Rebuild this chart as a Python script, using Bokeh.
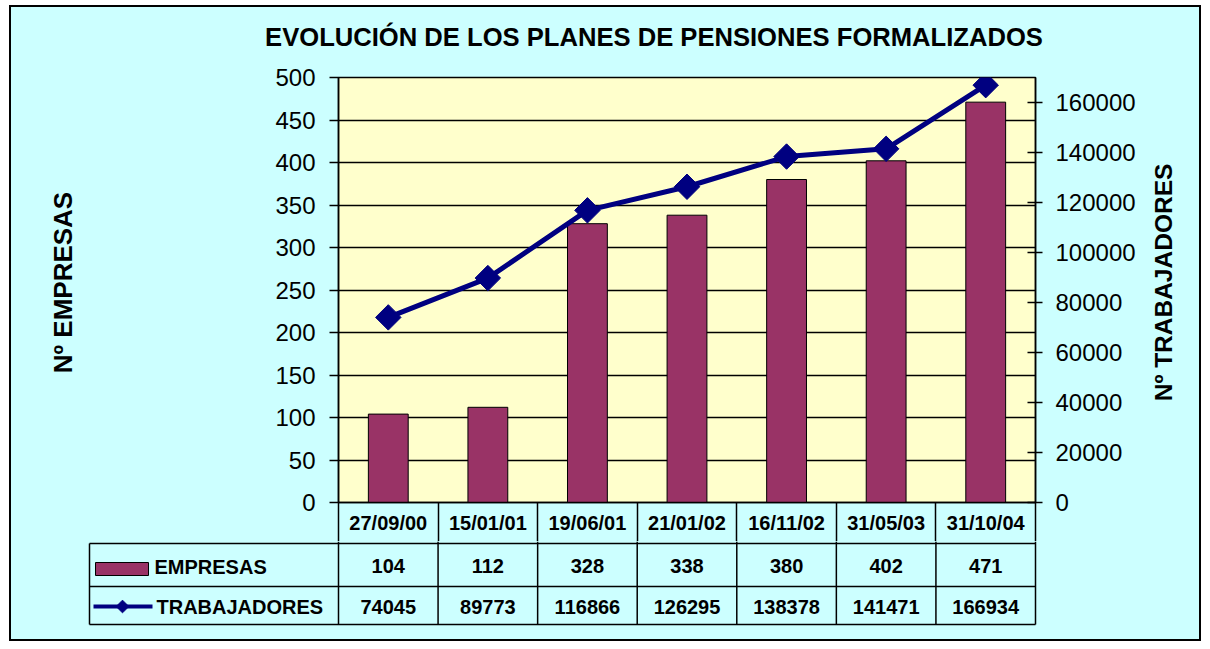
import math
from bokeh.plotting import figure
from bokeh.models import Range1d, LinearAxis, FixedTicker, BasicTickFormatter
from bokeh.layouts import column, row
from bokeh.core.properties import value
from bokeh.embed import file_html
from bokeh.resources import INLINE

# ---------------- data ----------------
fechas = ["27/09/00", "15/01/01", "19/06/01", "21/01/02", "16/11/02", "31/05/03", "31/10/04"]
empresas = [104, 112, 328, 338, 380, 402, 471]
trabajadores = [74045, 89773, 116866, 126295, 138378, 141471, 166934]
series = ["EMPRESAS", "TRABAJADORES"]
left_ticks = [0, 50, 100, 150, 200, 250, 300, 350, 400, 450, 500]
right_ticks = [0, 20000, 40000, 60000, 80000, 100000, 120000, 140000, 160000]
title_text = "EVOLUCIÓN DE LOS PLANES DE PENSIONES FORMALIZADOS"
left_label = "Nº EMPRESAS"
right_label = "Nº TRABAJADORES"

# ---------------- style ----------------
BG = "#CCFFFF"
PLOT_BG = "#FFFFCC"
BAR = "#993366"
LINE = "#000080"
FONT = "Liberation Sans"

n = len(fechas)
xc = [i + 0.5 for i in range(n)]


def panel(w, h, xr, yr):
    f = figure(width=w, height=h, x_range=Range1d(*xr), y_range=Range1d(*yr),
               output_backend="svg", toolbar_location=None, x_axis_type=None, y_axis_type=None,
               min_border=0, background_fill_color=BG, border_fill_color=BG,
               outline_line_color=None, styles={"background-color": BG})
    f.frame_align = False
    return f


# ---------------- title strip ----------------
hd = panel(1188, 53, (11, 1199), (60, 7))
hd.text(x=[653.5], y=[36], text=[title_text], text_align="center", text_baseline="middle",
        text_font=value(FONT), text_font_size="25.6px", text_font_style="bold",
        text_color="black")

# ---------------- left / right axis titles ----------------
lside = panel(89, 481, (11, 100), (541, 60))
lside.text(x=[62], y=[282], text=[left_label], angle=math.pi / 2, text_align="center",
           text_baseline="middle", text_font=value(FONT), text_font_size="26px",
           text_font_style="bold", text_color="black")

rside = panel(49, 481, (1150, 1199), (541, 60))
rside.text(x=[1163], y=[282], text=[right_label], angle=math.pi / 2, text_align="center",
           text_baseline="middle", text_font=value(FONT), text_font_size="24.5px",
           text_font_style="bold", text_color="black")

# ---------------- main chart ----------------
p = figure(width=1050, height=481, x_range=Range1d(0, n), y_range=Range1d(0, 500),
           output_backend="svg", toolbar_location=None,
           min_border_left=238, min_border_right=115, min_border_top=17, min_border_bottom=39,
           background_fill_color=PLOT_BG, border_fill_color=BG,
           outline_line_color="black", outline_line_width=1.5,
           styles={"background-color": BG})
p.frame_align = False

# left axis
ya = p.yaxis[0]
ya.ticker = FixedTicker(ticks=left_ticks)
ya.major_tick_out = 9
ya.major_tick_in = 0
ya.minor_tick_out = 0
ya.minor_tick_in = 0
ya.axis_line_color = "black"
ya.axis_line_width = 1.5
ya.major_tick_line_color = "black"
ya.major_tick_line_width = 1.5
ya.major_label_text_font = FONT
ya.major_label_text_font_size = "24px"
ya.major_label_text_color = "black"
ya.major_label_standoff = 14

# bottom axis: category row of the data table
xa = p.xaxis[0]
xa.ticker = FixedTicker(ticks=xc, minor_ticks=list(range(n + 1)))
xa.major_label_overrides = {x: f for x, f in zip(xc, fechas)}
xa.major_tick_out = 0
xa.major_tick_in = 0
xa.minor_tick_out = 39
xa.minor_tick_in = 0
xa.minor_tick_line_color = "black"
xa.minor_tick_line_width = 1.5
xa.axis_line_color = "black"
xa.axis_line_width = 1.5
xa.major_label_text_font = FONT
xa.major_label_text_font_size = "20px"
xa.major_label_text_font_style = "bold"
xa.major_label_text_color = "black"
xa.major_label_standoff = -30

p.xgrid.visible = False
p.ygrid.ticker = FixedTicker(ticks=left_ticks)
p.ygrid.grid_line_color = "black"
p.ygrid.grid_line_width = 1.5

# right axis
p.extra_y_ranges = {"trab": Range1d(0, 170000)}
ra = LinearAxis(y_range_name="trab", ticker=FixedTicker(ticks=right_ticks),
                formatter=BasicTickFormatter(use_scientific=False))
ra.major_tick_out = 7
ra.major_tick_in = 8
ra.minor_tick_out = 0
ra.minor_tick_in = 0
ra.axis_line_color = "black"
ra.axis_line_width = 1.5
ra.major_tick_line_color = "black"
ra.major_tick_line_width = 1.5
ra.major_label_text_font = FONT
ra.major_label_text_font_size = "24px"
ra.major_label_text_color = "black"
ra.major_label_standoff = 13
p.add_layout(ra, "right")

p.vbar(x=xc, top=empresas, width=0.4, fill_color=BAR, line_color="black", line_width=1)
p.line(xc, trabajadores, y_range_name="trab", line_color=LINE, line_width=5)
p.scatter(xc, trabajadores, y_range_name="trab", marker="square", angle=math.pi / 4,
          size=18, fill_color=LINE, line_color=LINE)

# ---------------- data table ----------------
colw = 697 / n
tx0 = (87 - 338) / colw
tx1 = (1037 - 338) / colw
t = figure(width=1188, height=98, x_range=Range1d(tx0, tx1), y_range=Range1d(628, 541),
           output_backend="svg", toolbar_location=None, x_axis_type=None, y_axis_type=None,
           min_border_left=76, min_border_right=162, min_border_top=0, min_border_bottom=11,
           background_fill_color=BG, border_fill_color=BG, outline_line_color=None,
           styles={"background-color": BG})
t.frame_align = False
t.extra_x_ranges = {"px": Range1d(87, 1037)}

row_lines = [543, 586, 624]
row_mid = [565, 606]

t.segment(x0=[89] * 3, y0=row_lines, x1=[1035] * 3, y1=row_lines, x_range_name="px",
          line_color="black", line_width=1.5)
t.segment(x0=[89], y0=[row_lines[0]], x1=[89], y1=[row_lines[-1]], x_range_name="px",
          line_color="black", line_width=1.5)
bounds = list(range(n + 1))
t.segment(x0=bounds, y0=[541] * (n + 1), x1=bounds, y1=[row_lines[-1]] * (n + 1),
          line_color="black", line_width=1.5)

tfont = dict(text_font=value(FONT), text_font_size="20px", text_font_style="bold",
             text_color="black", text_baseline="middle")
t.text(x=xc, y=[row_mid[0]] * n, text=[str(v) for v in empresas], text_align="center", **tfont)
t.text(x=xc, y=[row_mid[1]] * n, text=[str(v) for v in trabajadores], text_align="center", **tfont)

# legend keys
t.rect(x=[121.5], y=[568.5], width=53, height=13, x_range_name="px",
       fill_color=BAR, line_color="black", line_width=1)
t.line(x=[93, 152], y=[606, 606], x_range_name="px", line_color=LINE, line_width=4)
t.scatter(x=[122], y=[606], x_range_name="px", marker="square", angle=math.pi / 4,
          size=9, fill_color=LINE, line_color=LINE)
t.text(x=[154, 156], y=[566, 606], text=series, x_range_name="px", text_align="left", **tfont)

layout = column(hd, row(lside, p, rside, styles={"background-color": BG}), t,
                styles={"margin-left": "11px", "margin-top": "7px",
                        "outline": "2px solid black", "background-color": BG})

open("out.html", "w").write(file_html(layout, INLINE))
